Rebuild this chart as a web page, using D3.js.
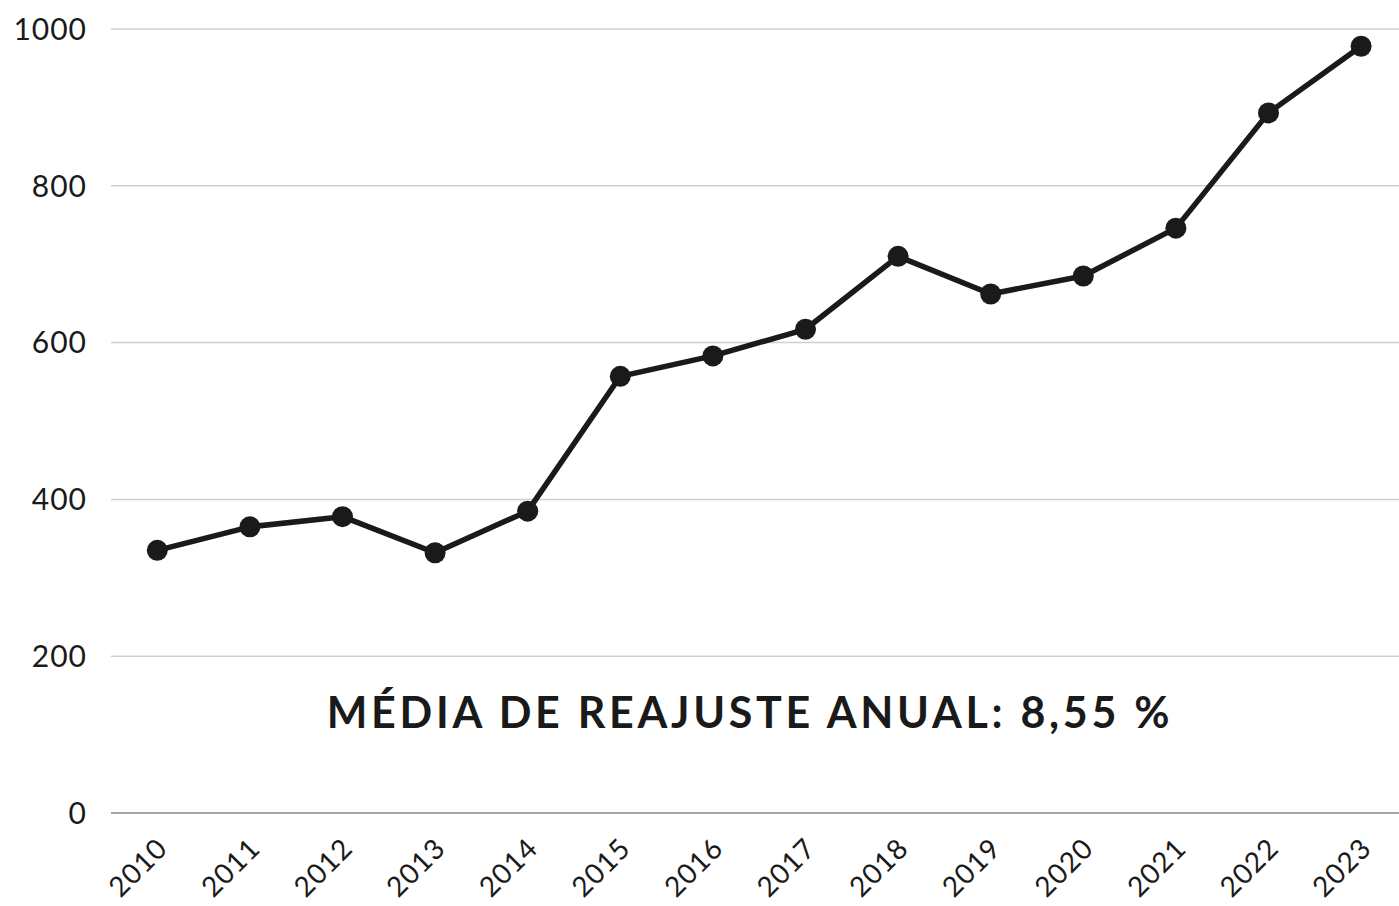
<!DOCTYPE html>
<html>
<head>
<meta charset="utf-8">
<script src="https://cdn.jsdelivr.net/npm/d3@7"></script>
<style>
  body { margin: 0; background: #fff; }
  text { font-family: "Lato", "Inter", sans-serif; fill: #1a1a1a; }
</style>
</head>
<body>
<svg id="chart" width="1399" height="906"></svg>
<script>
const years = ["2010", "2011", "2012", "2013", "2014", "2015", "2016", "2017", "2018", "2019", "2020", "2021", "2022", "2023"];
const values = [335, 365, 378, 332, 385, 557, 583, 617, 710, 662, 685, 746, 893, 978];
const yTicks = [0, 200, 400, 600, 800, 1000];
const title = "MÉDIA DE REAJUSTE ANUAL: 8,55 %";

const svg = d3.select("#chart");
const width = +svg.attr("width");

const left = 111, step = 92.6;

const x = d3.scalePoint()
  .domain(years)
  .range([left + step / 2, left + step / 2 + step * (years.length - 1)]);

const y = d3.scaleLinear()
  .domain([0, 1000])
  .range([813, 29]);

// grid
svg.append("g")
  .selectAll("line")
  .data(yTicks)
  .enter().append("line")
  .attr("x1", left)
  .attr("x2", width)
  .attr("y1", d => y(d))
  .attr("y2", d => y(d))
  .attr("stroke", d => d === 0 ? "#888" : "#cfcfcf")
  .attr("stroke-width", 1.5);

// y labels
svg.append("g")
  .selectAll("text")
  .data(yTicks)
  .enter().append("text")
  .attr("x", 87)
  .attr("y", d => y(d))
  .attr("dy", "0.36em")
  .attr("text-anchor", "end")
  .style("font-size", "30px")
  .style("letter-spacing", "1px")
  .text(d => d);

// x labels
svg.append("g")
  .selectAll("text")
  .data(years)
  .enter().append("text")
  .attr("transform", d => `translate(${x(d) + 12}, ${850}) rotate(-45)`)
  .attr("text-anchor", "end")
  .style("font-size", "28px")
  .style("letter-spacing", "1px")
  .text(d => d);

const line = d3.line()
  .x((d, i) => x(years[i]))
  .y(d => y(d));

svg.append("path")
  .datum(values)
  .attr("d", line)
  .attr("fill", "none")
  .attr("stroke", "#1a1a1a")
  .attr("stroke-width", 5.5)
  .attr("stroke-linejoin", "round");

svg.append("g")
  .selectAll("circle")
  .data(values)
  .enter().append("circle")
  .attr("cx", (d, i) => x(years[i]))
  .attr("cy", d => y(d))
  .attr("r", 10.5)
  .attr("fill", "#1a1a1a");

svg.append("text")
  .attr("x", 750)
  .attr("y", 728)
  .attr("text-anchor", "middle")
  .style("font-size", "43px")
  .style("font-weight", "700")
  .style("letter-spacing", "3.7px")
  .text(title);
</script>
</body>
</html>
